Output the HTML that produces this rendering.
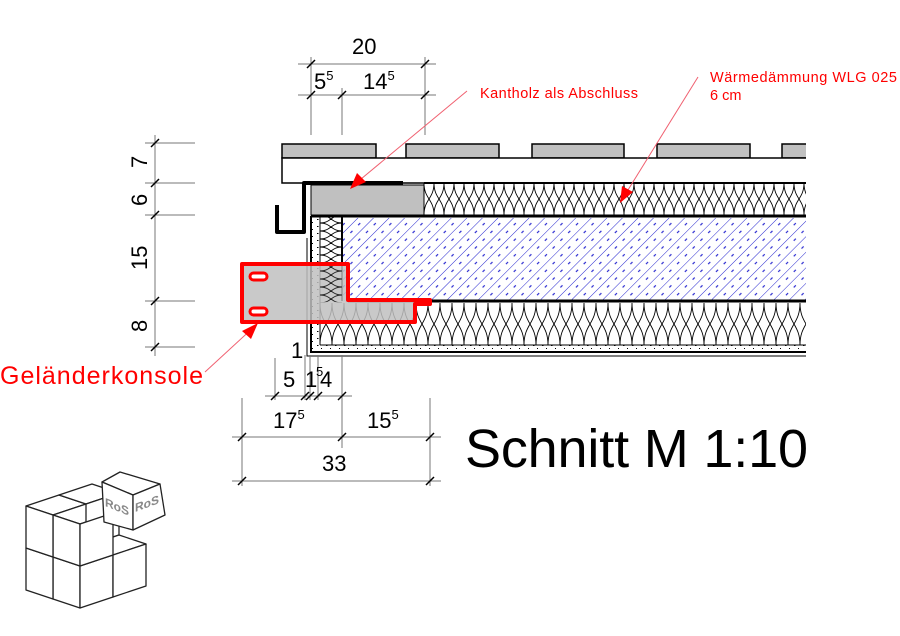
<!DOCTYPE html>
<html><head><meta charset="utf-8"><style>html,body{margin:0;padding:0;background:#fff}svg{display:block}</style></head>
<body>
<svg width="900" height="636" viewBox="0 0 900 636" xmlns="http://www.w3.org/2000/svg" font-family="Liberation Sans, Arial, sans-serif">
<defs>
<pattern id="ins1" x="424" y="183" width="10" height="32" patternUnits="userSpaceOnUse">
<path d="M0,0 C0,16 10,16 10,32 M10,0 C10,16 0,16 0,32" fill="none" stroke="#000" stroke-width="0.9"/>
</pattern>
<pattern id="ins2" x="320" y="303" width="12" height="42" patternUnits="userSpaceOnUse">
<path d="M0,0 C0,21 12,21 12,42 M12,0 C12,21 0,21 0,42" fill="none" stroke="#000" stroke-width="0.9"/>
</pattern>
<pattern id="ins3" x="320" y="215" width="22" height="8" patternUnits="userSpaceOnUse">
<path d="M0,0 C11,0 11,8 22,8 M0,8 C11,8 11,0 22,0" fill="none" stroke="#000" stroke-width="0.9"/>
</pattern>
<pattern id="hatch" x="0" y="0" width="11" height="11" patternUnits="userSpaceOnUse" patternTransform="rotate(45)">
<line x1="0" y1="0" x2="0" y2="11" stroke="#2a2ad0" stroke-width="1"/>
<line x1="5.5" y1="2" x2="5.5" y2="5" stroke="#2a2ad0" stroke-width="1.2"/>
</pattern>
<pattern id="dots" width="9" height="7" patternUnits="userSpaceOnUse">
<rect x="2" y="2" width="1.5" height="1" fill="#000"/><rect x="6" y="5" width="1" height="1" fill="#000"/>
</pattern>
</defs>

<g fill="#c0c0c0" stroke="#000" stroke-width="1.5">
<rect x="282" y="144" width="94" height="14"/>
<rect x="406" y="144" width="93" height="14"/>
<rect x="532" y="144" width="92" height="14"/>
<rect x="657" y="144" width="93" height="14"/>
<path d="M806,144 H782 V158 H806"/>
</g>
<path d="M806,158 H282 V183 H806" fill="#fff" stroke="#000" stroke-width="1.5"/>

<rect x="311" y="185" width="113" height="30" fill="#c0c0c0" stroke="#000" stroke-width="1"/>
<rect x="424" y="183" width="382" height="32" fill="url(#ins1)"/>
<line x1="424" y1="183" x2="806" y2="183" stroke="#000" stroke-width="2"/>
<line x1="311" y1="216" x2="806" y2="216" stroke="#000" stroke-width="3"/>
<line x1="424" y1="183" x2="424" y2="215" stroke="#000" stroke-width="1"/>
<rect x="342" y="218" width="464" height="83" fill="url(#hatch)"/>
<line x1="342" y1="217" x2="342" y2="301" stroke="#000" stroke-width="2"/>
<line x1="348" y1="301" x2="806" y2="301" stroke="#000" stroke-width="3"/>
<rect x="320" y="217" width="22" height="86" fill="url(#ins3)"/>
<line x1="320" y1="217" x2="320" y2="345" stroke="#000" stroke-width="1"/>
<rect x="311" y="216" width="9" height="133" fill="url(#dots)"/>
<rect x="311" y="345" width="495" height="6" fill="url(#dots)"/>
<rect x="320" y="303" width="486" height="42" fill="url(#ins2)"/>
<line x1="320" y1="345" x2="806" y2="345" stroke="#000" stroke-width="1"/>
<path d="M311,216 V352 H806" fill="none" stroke="#000" stroke-width="2"/>
<path d="M307,238 V356 H806" fill="none" stroke="#000" stroke-width="1"/>

<path d="M242,264 H348 V300 H430 V304 H415 V322 H242 Z" fill="#c0c0c0" fill-opacity="0.85" stroke="#f00" stroke-width="4" stroke-linejoin="round"/>
<rect x="320" y="266" width="22" height="36" fill="url(#ins3)" opacity="0.8"/>
<g fill="#fff" stroke="#f00" stroke-width="3">
<rect x="250" y="273" width="17" height="7" rx="3.5"/>
<rect x="250" y="308" width="17" height="7" rx="3.5"/>
</g>

<path d="M403,183 H304 V232 H277 V205" fill="none" stroke="#000" stroke-width="4" stroke-linejoin="round"/>

<g stroke="#777" stroke-width="1" fill="none">
<line x1="298" y1="64" x2="436" y2="64"/>
<line x1="298" y1="95" x2="436" y2="95"/>
<line x1="311" y1="57" x2="311" y2="135"/>
<line x1="342" y1="88" x2="342" y2="135"/>
<line x1="425" y1="57" x2="425" y2="135"/>
<line x1="155" y1="135" x2="155" y2="356"/>
<line x1="145" y1="143" x2="195" y2="143"/>
<line x1="145" y1="183" x2="195" y2="183"/>
<line x1="145" y1="215" x2="195" y2="215"/>
<line x1="145" y1="301" x2="195" y2="301"/>
<line x1="145" y1="347" x2="195" y2="347"/>
<line x1="265" y1="396" x2="352" y2="396"/>
<line x1="275" y1="358" x2="275" y2="400"/>
<line x1="305" y1="355" x2="305" y2="400"/>
<line x1="310" y1="355" x2="310" y2="400"/>
<line x1="318" y1="355" x2="318" y2="400"/>
<line x1="232" y1="437" x2="441" y2="437"/>
<line x1="232" y1="481" x2="441" y2="481"/>
<line x1="242" y1="398" x2="242" y2="486"/>
<line x1="342" y1="355" x2="342" y2="448"/>
<line x1="430" y1="398" x2="430" y2="486"/>
</g>
<g stroke="#000" stroke-width="1.5">
<path d="M307,68 l8,-8 M338,99 l8,-8 M421,68 l8,-8 M421,99 l8,-8 M307,99 l8,-8"/>
<path d="M151,147 l8,-8 M151,187 l8,-8 M151,219 l8,-8 M151,305 l8,-8 M151,351 l8,-8"/>
<path d="M271,400 l8,-8 M301,400 l8,-8 M306,400 l8,-8 M314,400 l8,-8 M338,400 l8,-8"/>
<path d="M238,441 l8,-8 M338,441 l8,-8 M426,441 l8,-8 M238,485 l8,-8 M426,485 l8,-8"/>
</g>
<g font-size="22" fill="#000">
<text x="352" y="54">20</text>
<text x="314" y="89">5<tspan font-size="13" dy="-9">5</tspan></text>
<text x="363" y="89">14<tspan font-size="13" dy="-9">5</tspan></text>
<text transform="translate(147,168) rotate(-90)">7</text>
<text transform="translate(147,206) rotate(-90)">6</text>
<text transform="translate(147,270) rotate(-90)">15</text>
<text transform="translate(147,332) rotate(-90)">8</text>
<text x="291" y="358">1</text>
<text x="283" y="387">5</text>
<text x="305" y="387">1</text>
<text x="316" y="376" font-size="13">5</text>
<text x="320" y="387">4</text>
<text x="273" y="428">17<tspan font-size="13" dy="-9">5</tspan></text>
<text x="367" y="428">15<tspan font-size="13" dy="-9">5</tspan></text>
<text x="322" y="471">33</text>
</g>

<g stroke="#f06070" stroke-width="1">
<line x1="467" y1="91" x2="355" y2="184"/>
<line x1="698" y1="77" x2="623" y2="198"/>
<line x1="205" y1="372" x2="255" y2="326"/>
</g>
<g fill="#f00">
<path d="M350,189 L357,173 L366,182 Z"/>
<path d="M620,203 L622,186 L633,192 Z"/>
<path d="M258,323 L251,339 L242,331 Z"/>
</g>
<g fill="#f00">
<text x="480" y="98" font-size="14.5" textLength="158">Kantholz als Abschluss</text>
<text x="710" y="82" font-size="14.5" textLength="187">Wärmedämmung WLG 025</text>
<text x="710" y="100" font-size="14.5">6 cm</text>
<text x="0" y="384" font-size="25" textLength="203">Geländerkonsole</text>
</g>

<text x="465" y="467" font-size="54" fill="#000" textLength="343">Schnitt M 1:10</text>

<!-- logo -->
<g fill="#fff" stroke="#222" stroke-width="1.3" stroke-linejoin="round">
<!-- top faces -->
<path d="M53,515 L86,504 L59,495 L26,506 Z"/>
<path d="M86,504 L119,493 L92,484 L59,495 Z"/>
<path d="M80,524 L113,513 L86,504 L53,515 Z"/>
<!-- back right upper cube right face -->
<path d="M86,546 L119,535 L119,493 L86,504 Z"/>
<!-- lower right cube top -->
<path d="M80,566 L113,555 L86,546 L80,548 Z"/>
<path d="M113,555 L146,544 L119,535 L86,546 Z"/>
<!-- left face j=0 -->
<path d="M80,608 L53,599 L53,557 L80,566 Z"/>
<path d="M53,599 L26,590 L26,548 L53,557 Z"/>
<path d="M80,566 L53,557 L53,515 L80,524 Z"/>
<path d="M53,557 L26,548 L26,506 L53,515 Z"/>
<!-- right face i=0 -->
<path d="M80,608 L113,597 L113,555 L80,566 Z"/>
<path d="M113,597 L146,586 L146,544 L113,555 Z"/>
<path d="M80,566 L113,555 L113,513 L80,524 Z"/>
<!-- RoS cube -->
<path d="M102,482 L120,472 L160,484 L133,495 Z"/>
<path d="M102,482 L133,495 L133,530 L104,522 Z"/>
<path d="M133,495 L160,484 L165,515 L133,530 Z"/>
</g>
<g fill="#888" font-size="12" font-weight="bold">
<text transform="translate(105,506) skewY(22)">RoS</text>
<text transform="translate(135,512) skewY(-20)">RoS</text>
</g>
</svg>
</body></html>
